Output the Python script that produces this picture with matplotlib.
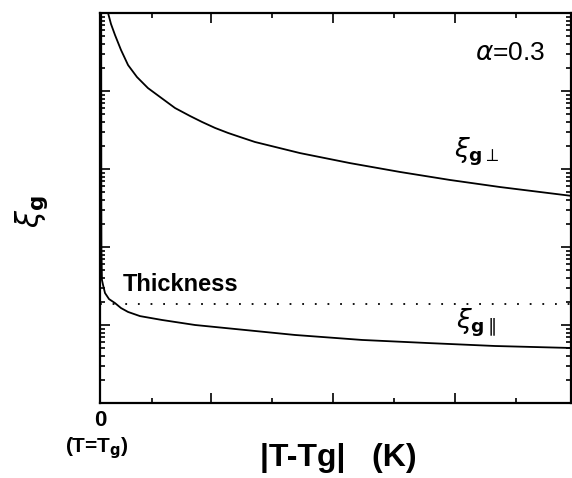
import matplotlib
matplotlib.use("Agg")
import matplotlib.pyplot as plt
from matplotlib.ticker import LogLocator, NullFormatter, FixedLocator

# ---- data ----
x_perp = [0.066, 0.090, 0.123, 0.172, 0.230, 0.303, 0.393, 0.492, 0.615, 0.738, 0.836, 0.943,
          1.049, 1.148, 1.270, 1.639, 2.049, 2.459, 2.869, 3.279, 3.869]
xi_perp = [1.0e5, 7.23e4, 5.22e4, 3.36e4, 2.15e4, 1.51e4, 1.09e4, 8.38e3, 6.05e3, 4.78e3, 4.01e3, 3.36e3,
           2.90e3, 2.57e3, 2.22e3, 1.60e3, 1.19e3, 916, 723, 587, 451]

x_par = [0.010, 0.011, 0.012, 0.016, 0.025, 0.041, 0.074, 0.123, 0.172, 0.230, 0.328, 0.508, 0.779,
         1.189, 1.598, 2.148, 2.689, 3.238, 3.869]
xi_par = [1.0e5, 401, 91.6, 37.8, 32.6, 25.7, 21.5, 19.1, 16.5, 14.7, 13.0, 11.6, 10.0,
          8.63, 7.45, 6.43, 5.87, 5.38, 5.07]

thickness = 18.6
x_major = [0.91, 1.91, 2.91]
x_minor = [0.43, 1.41, 2.41, 3.41]

plt.rcParams['font.family'] = ['Liberation Sans', 'DejaVu Sans']
plt.rcParams['mathtext.fontset'] = 'dejavusans'

fig = plt.figure(figsize=(5.72, 4.78), dpi=100)
ax = fig.add_axes([100/572, (478-403)/478, (571-100)/572, (403-13)/478])

ax.plot(x_perp, xi_perp, color='black', lw=1.3)
ax.plot(x_par, xi_par, color='black', lw=1.3)
ax.axhline(thickness, color='black', lw=1.3, linestyle=(0, (1, 6)))

ax.set_yscale('log')
ax.set_ylim(1, 1e5)
ax.set_xlim(0, 3.86)

ax.xaxis.set_major_locator(FixedLocator(x_major))
ax.xaxis.set_minor_locator(FixedLocator(x_minor))
ax.yaxis.set_major_locator(LogLocator(base=10, numticks=10))
ax.yaxis.set_minor_locator(LogLocator(base=10, subs=range(2, 10), numticks=20))
ax.xaxis.set_major_formatter(NullFormatter())
ax.xaxis.set_minor_formatter(NullFormatter())
ax.yaxis.set_major_formatter(NullFormatter())
ax.yaxis.set_minor_formatter(NullFormatter())
ax.tick_params(which='both', direction='in', top=True, right=True, width=1.2)
ax.tick_params(which='major', length=7)
ax.tick_params(which='minor', length=3.5)
for s in ax.spines.values():
    s.set_linewidth(1.6)

# annotations
ax.text(0.19, 32.6, 'Thickness', fontsize=17, fontweight='bold', ha='left', va='center')
ax.text(3.07, 3.07e4, r'$\alpha$=0.3', fontsize=19, ha='left', va='center')
ax.text(2.90, 1.65e3, r'$\xi_{\mathbf{g}\perp}$', fontsize=19, ha='left', va='center')
ax.text(2.92, 10.8, r'$\xi_{\mathbf{g}\parallel}$', fontsize=19, ha='left', va='center')

fig.text(32/572, 1 - 212/478, r'$\xi_{\mathbf{g}}$', fontsize=22, rotation=90, ha='center', va='center')
fig.text(100/572, 1 - 420/478, '0', fontsize=16, fontweight='bold', ha='center', va='center')
fig.text(97/572, 1 - 448/478, r'(T=T$_{\mathbf{g}}$)', fontsize=15, fontweight='bold', ha='center', va='center')
fig.text(338/572, 1 - 458/478, '|T-Tg|   (K)', fontsize=23, fontweight='bold', ha='center', va='center')

fig.savefig('out.png', dpi=100)
